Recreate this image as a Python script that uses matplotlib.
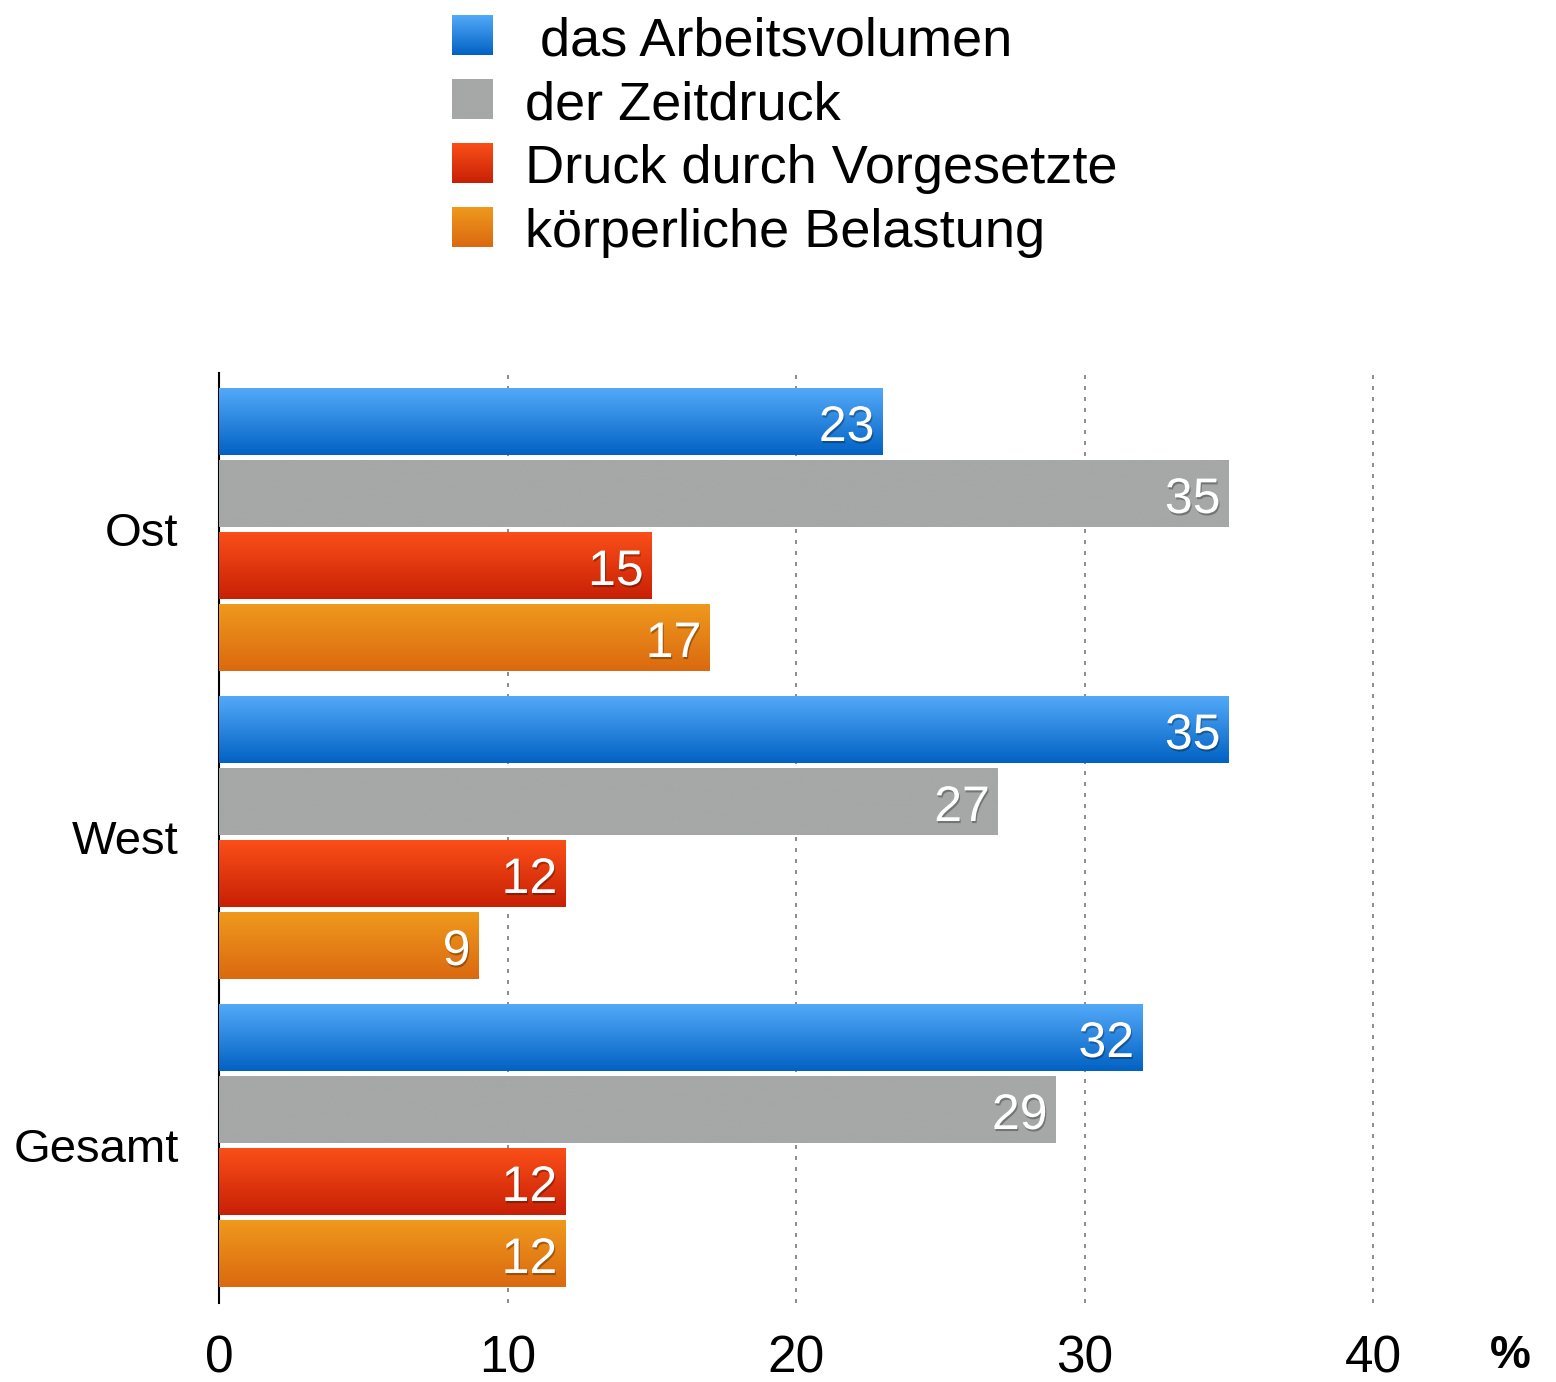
import numpy as np
import matplotlib
matplotlib.use("Agg")
import matplotlib.pyplot as plt
from matplotlib.colors import LinearSegmentedColormap
import matplotlib.patheffects as pe

# ---- data ----
categories = ["Ost", "West", "Gesamt"]
series_names = [" das Arbeitsvolumen", "der Zeitdruck", "Druck durch Vorgesetzte", "körperliche Belastung"]
arbeitsvolumen = [23, 35, 32]
zeitdruck = [35, 27, 29]
druck_vorgesetzte = [15, 12, 12]
koerperlich = [17, 9, 12]
x_ticks = [0, 10, 20, 30, 40]
x_tick_labels = ["0", "10", "20", "30", "40"]
unit_label = "%"

series_values = [arbeitsvolumen, zeitdruck, druck_vorgesetzte, koerperlich]
grad_top = ["#52A9F8", "#A5A8A7", "#FA4F18", "#EF991D"]
grad_bot = ["#0262C4", "#A5A8A7", "#C82006", "#DB6910"]

FONT = ["Liberation Sans", "DejaVu Sans"]
plt.rcParams["font.family"] = FONT

W, H = 1556, 1382
PXU = 308.0  # pixels per category unit
fig = plt.figure(figsize=(W / 100, H / 100), dpi=100)
ax = fig.add_axes([219 / W, 1 - 1303 / H, (45 * 28.85) / W, (1303 - 373) / H])

step = 72 / PXU
bh = 67 / PXU
grad = np.linspace(0, 1, 64).reshape(-1, 1)

for si, vals in enumerate(series_values):
    cmap = LinearSegmentedColormap.from_list(f"g{si}", [grad_top[si], grad_bot[si]])
    for gi, v in enumerate(vals):
        yc = gi + (si - 1.5) * step
        ax.barh(yc, v, height=bh, color=grad_bot[si], linewidth=0, zorder=2)
        ax.imshow(grad, extent=[0, v, yc + bh / 2, yc - bh / 2], aspect="auto",
                  cmap=cmap, interpolation="bicubic", zorder=3)
        ax.text(v - 0.28, yc + 19.5 / PXU, str(v), ha="right", va="baseline", color="white",
                fontsize=36, zorder=5,
                path_effects=[pe.SimplePatchShadow(offset=(0.8, -1.5), shadow_rgbFace="black", alpha=0.3),
                              pe.Normal()])

ax.set_xlim(0, 45)
ax.set_ylim((1303 - 529.5) / PXU, (373 - 529.5) / PXU)
ax.set_xticks(x_ticks)
ax.set_xticklabels(x_tick_labels, fontsize=37)
ax.set_yticks(range(len(categories)))
ax.set_yticklabels(categories, fontsize=34)
ax.tick_params(axis="x", length=0, pad=23)
ax.tick_params(axis="y", length=0, pad=29)
ax.xaxis.grid(True, color="#8f8f8f", linewidth=1.44, linestyle=(0, (2, 3.5)))
ax.set_axisbelow(True)
for s in ["top", "right", "bottom"]:
    ax.spines[s].set_visible(False)
ax.spines["left"].set_linewidth(1.5)
ax.spines["left"].set_color("black")

fig.text(1510 / W, 1 - 1356 / H, unit_label, ha="center", va="center", fontsize=33, fontweight="bold")

# ---- legend (manual, pixel coordinates) ----
lax = fig.add_axes([0, 0, 1, 1])
lax.set_xlim(0, W)
lax.set_ylim(H, 0)
lax.axis("off")
row_y = [35, 99, 163, 227]
for si, name in enumerate(series_names):
    cmap = LinearSegmentedColormap.from_list(f"l{si}", [grad_top[si], grad_bot[si]])
    y = row_y[si]
    lax.imshow(grad, extent=[452, 493, y + 20, y - 20], aspect="auto", cmap=cmap,
               interpolation="bicubic")
    lax.text(525, y + 20, name, ha="left", va="baseline", fontsize=39)
lax.set_xlim(0, W)
lax.set_ylim(H, 0)

fig.savefig("out.png", dpi=100)
